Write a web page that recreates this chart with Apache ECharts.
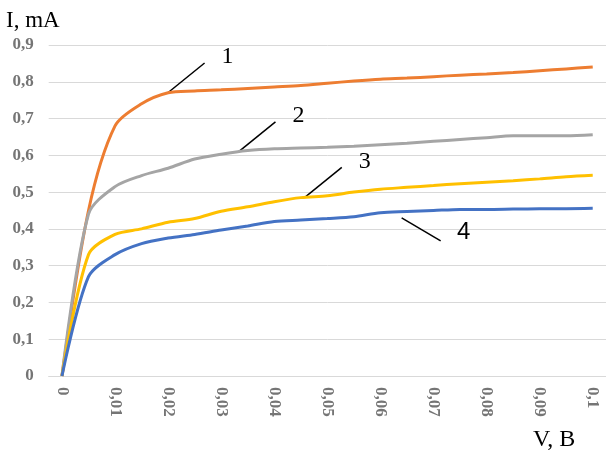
<!DOCTYPE html>
<html>
<head>
<meta charset="utf-8">
<script src="https://cdn.jsdelivr.net/npm/echarts@6/dist/echarts.min.js"></script>
<style>
  html, body { margin: 0; padding: 0; background: #fff; }
  #chart { width: 606px; height: 456px; }
</style>
</head>
<body>
<div id="chart"></div>
<script>
// x categories, V (every other one gets a label)
const voltage = ['0', '0,005', '0,01', '0,015', '0,02', '0,025', '0,03', '0,035', '0,04', '0,045', '0,05',
  '0,055', '0,06', '0,065', '0,07', '0,075', '0,08', '0,085', '0,09', '0,095', '0,1']

// current, mA
const curve1 = [0, 0.45, 0.68, 0.74, 0.77, 0.775, 0.778, 0.782, 0.786, 0.79, 0.796,
  0.802, 0.807, 0.81, 0.814, 0.818, 0.821, 0.825, 0.83, 0.835, 0.84]
const curve2 = [0, 0.44, 0.515, 0.545, 0.565, 0.59, 0.603, 0.613, 0.618, 0.62, 0.622,
  0.625, 0.629, 0.633, 0.638, 0.643, 0.648, 0.653, 0.653, 0.653, 0.656]
const curve3 = [0, 0.33, 0.385, 0.4, 0.418, 0.428, 0.448, 0.46, 0.474, 0.485, 0.49,
  0.5, 0.508, 0.513, 0.518, 0.523, 0.527, 0.531, 0.536, 0.542, 0.546]
const curve4 = [0, 0.27, 0.33, 0.36, 0.375, 0.385, 0.397, 0.408, 0.42, 0.424, 0.428,
  0.433, 0.444, 0.447, 0.45, 0.453, 0.453, 0.454, 0.455, 0.455, 0.456]

const curveNames = ['1', '2', '3', '4']
const colors = ['#ED7D31', '#A5A5A5', '#FFC000', '#4472C4']
const curves = [curve1, curve2, curve3, curve4]

const serif = '"Liberation Serif", "Times New Roman", serif'
const tickStyle = { color: '#757575', fontFamily: serif, fontWeight: 'bold', fontSize: 17 }

const chart = echarts.init(document.getElementById('chart'), null, { renderer: 'canvas' })

chart.setOption({
  animation: false,
  grid: { left: 48.7, top: 45, width: 560, height: 331 },
  xAxis: {
    type: 'category',
    data: voltage,
    boundaryGap: true,
    axisLine: { lineStyle: { color: '#d9d9d9', width: 1 } },
    axisTick: { show: false },
    axisLabel: { ...tickStyle, interval: 1, rotate: -90, margin: 11 },
  },
  yAxis: {
    type: 'value',
    min: 0, max: 0.9, interval: 0.1,
    axisLine: { show: false },
    axisTick: { show: false },
    splitLine: { lineStyle: { color: '#d9d9d9', width: 1 } },
    axisLabel: {
      ...tickStyle, margin: 15,
      formatter: v => v === 0 ? '0' : v.toFixed(1).replace('.', ','),
    },
  },
  series: curves.map((d, i) => ({
    name: curveNames[i],
    type: 'line',
    data: d,
    smooth: 0.3,
    showSymbol: false,
    lineStyle: { color: colors[i], width: 3 },
    itemStyle: { color: colors[i] },
  })),
})

// point on a curve at a fractional category index
function pointOn(si, fi) {
  const d = curves[si]
  const i0 = Math.floor(fi), i1 = Math.min(i0 + 1, d.length - 1), t = fi - i0
  const v = d[i0] + (d[i1] - d[i0]) * t
  const a = chart.convertToPixel({ gridIndex: 0 }, [i0, v])
  const b = chart.convertToPixel({ gridIndex: 0 }, [i1, v])
  return [a[0] + (b[0] - a[0]) * t, a[1]]
}

// leader lines with curve numbers
const leaders = [
  { s: 0, at: 3.98, gap: 0, dx: 37, dy: -30, font: serif },
  { s: 1, at: 6.65, gap: 0, dx: 37, dy: -30, font: serif },
  { s: 2, at: 9.15, gap: 0, dx: 37, dy: -30, font: serif },
  { s: 3, at: 12.8, gap: 6, dx: 39, dy: 23, font: '"Liberation Sans", Arial, sans-serif' },
]
const graphic = []
leaders.forEach(l => {
  const p = pointOn(l.s, l.at)
  const x1 = p[0], y1 = p[1] + l.gap
  const x2 = x1 + l.dx, y2 = y1 + l.dy
  graphic.push({
    type: 'line', shape: { x1, y1, x2, y2 },
    style: { stroke: '#000', lineWidth: 1.5 },
  })
  graphic.push({
    type: 'text', x: x2 + 23, y: y2 + (l.dy < 0 ? -6 : -8),
    style: { text: curveNames[l.s], font: `24px ${l.font}`, fill: '#000', align: 'center', verticalAlign: 'middle' },
  })
})
graphic.push({
  type: 'text', x: 6, y: 9,
  style: { text: 'I, mA', font: `23px ${serif}`, fill: '#000', align: 'left', verticalAlign: 'top' },
})
graphic.push({
  type: 'text', x: 533, y: 428,
  style: { text: 'V, B', font: `24px ${serif}`, fill: '#000', align: 'left', verticalAlign: 'top' },
})
chart.setOption({ graphic })
</script>
</body>
</html>
